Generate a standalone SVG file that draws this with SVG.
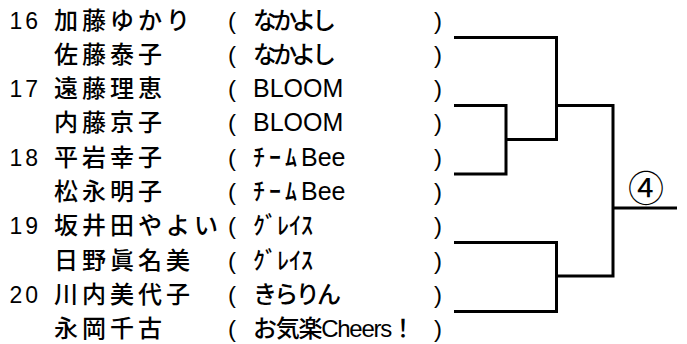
<svg xmlns="http://www.w3.org/2000/svg" width="687" height="344" viewBox="0 0 687 344">
<style>
text{font-family:"Liberation Sans","Noto Sans CJK JP",sans-serif;fill:#000;font-size:24px}
.num{font-size:23px;letter-spacing:3px}
.name{font-family:"Noto Sans CJK JP",sans-serif;font-size:24px;letter-spacing:4px;font-weight:500}
.kana{font-family:"Noto Sans CJK JP",sans-serif;font-weight:500}
.hw{font-family:"Noto Sans CJK JP",sans-serif;font-weight:500;letter-spacing:4px}
.lat{font-size:25px}
.line{fill:none;stroke:#000;stroke-width:3;stroke-linejoin:miter;stroke-linecap:butt}
</style>
<rect width="687" height="344" fill="#fff"/>
<g id="entry16a" transform="translate(0,28.5)">
<text class="num" x="9.5" y="0">16</text><text class="name" x="54" y="0">加藤ゆかり</text><text x="228" y="0">(</text><text class="kana" x="253" y="0" textLength="83">なかよし</text><text x="434" y="0">)</text>
</g>
<g id="entry16b" transform="translate(0,62.8)">
<text class="name" x="54" y="0">佐藤泰子</text><text x="228" y="0">(</text><text class="kana" x="253" y="0" textLength="83">なかよし</text><text x="434" y="0">)</text>
</g>
<g id="entry17a" transform="translate(0,97.1)">
<text class="num" x="9.5" y="0">17</text><text class="name" x="54" y="0">遠藤理恵</text><text x="228" y="0">(</text><text class="lat" x="253" y="0">BLOOM</text><text x="434" y="0">)</text>
</g>
<g id="entry17b" transform="translate(0,131.4)">
<text class="name" x="54" y="0">内藤京子</text><text x="228" y="0">(</text><text class="lat" x="253" y="0">BLOOM</text><text x="434" y="0">)</text>
</g>
<g id="entry18a" transform="translate(0,165.7)">
<text class="num" x="9.5" y="0">18</text><text class="name" x="54" y="0">平岩幸子</text><text x="228" y="0">(</text><text x="253" y="0"><tspan class="hw">ﾁｰﾑ</tspan><tspan class="lat">Bee</tspan></text><text x="434" y="0">)</text>
</g>
<g id="entry18b" transform="translate(0,200)">
<text class="name" x="54" y="0">松永明子</text><text x="228" y="0">(</text><text x="253" y="0"><tspan class="hw">ﾁｰﾑ</tspan><tspan class="lat">Bee</tspan></text><text x="434" y="0">)</text>
</g>
<g id="entry19a" transform="translate(0,234.3)">
<text class="num" x="9.5" y="0">19</text><text class="name" x="54" y="0">坂井田やよい</text><text x="228" y="0">(</text><text class="kana" x="253" y="0">ｸﾞﾚｲｽ</text><text x="434" y="0">)</text>
</g>
<g id="entry19b" transform="translate(0,268.6)">
<text class="name" x="54" y="0">日野眞名美</text><text x="228" y="0">(</text><text class="kana" x="253" y="0">ｸﾞﾚｲｽ</text><text x="434" y="0">)</text>
</g>
<g id="entry20a" transform="translate(0,302.9)">
<text class="num" x="9.5" y="0">20</text><text class="name" x="54" y="0">川内美代子</text><text x="228" y="0">(</text><text class="kana" x="253" y="0" textLength="88">きらりん</text><text x="434" y="0">)</text>
</g>
<g id="entry20b" transform="translate(0,337.2)">
<text class="name" x="54" y="0">永岡千古</text><text x="228" y="0">(</text><text x="253" y="0" textLength="162"><tspan class="kana">お気楽</tspan>Cheers<tspan class="kana">！</tspan></text><text x="434" y="0">)</text>
</g>
<g id="label4">
<text x="646" y="201.5" text-anchor="middle" style="font-family:'Noto Sans CJK JP',sans-serif;font-size:36px">④</text>
</g>
<g id="connectors">
<path class="line" d="M454,37.5 H556.5 V139.5 H506"/>
<path class="line" d="M454,105.5 H506 V174 H454"/>
<path class="line" d="M556.5,105.5 H613 V276 H556.5"/>
<path class="line" d="M454,242.5 H556.5 V311.5 H454"/>
<path class="line" d="M613,208 H677"/>
</g>
</svg>
